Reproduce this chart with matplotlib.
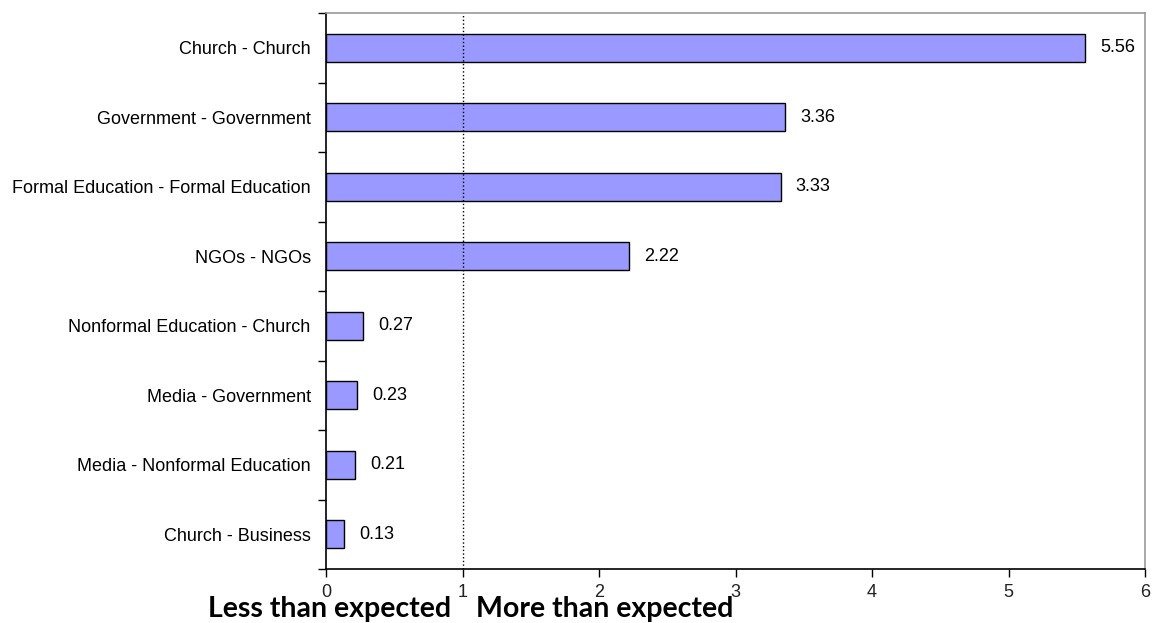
import matplotlib
matplotlib.use("Agg")
import matplotlib.pyplot as plt

categories = [
    "Church - Church",
    "Government - Government",
    "Formal Education - Formal Education",
    "NGOs - NGOs",
    "Nonformal Education - Church",
    "Media - Government",
    "Media - Nonformal Education",
    "Church - Business",
]
values = [5.56, 3.36, 3.33, 2.22, 0.27, 0.23, 0.21, 0.13]
value_labels = ["5.56", "3.36", "3.33", "2.22", "0.27", "0.23", "0.21", "0.13"]
x_ticks = [0, 1, 2, 3, 4, 5, 6]

plt.rcParams["font.family"] = ["Liberation Sans", "DejaVu Sans"]

fig = plt.figure(figsize=(11.56, 6.23), dpi=100)
ax = fig.add_axes([326 / 1156, 1 - 569 / 623, (1145 - 326) / 1156, (569 - 13) / 623])

ypos = list(range(len(categories)))
ax.barh(ypos, values, height=0.4, color="#9999ff", edgecolor="black", linewidth=1)

for y, v, lab in zip(ypos, values, value_labels):
    ax.annotate(lab, (v, y), xytext=(11, 0), textcoords="offset points",
                va="center", ha="left", fontsize=13)

ax.axvline(1, color="black", linestyle=":", linewidth=1)

ax.set_xlim(0, 6)
ax.set_ylim(len(categories) - 0.5, -0.5)
ax.set_xticks(x_ticks)
ax.set_xticklabels([str(t) for t in x_ticks], fontsize=13, color="#222222")

# category labels sit at bar centers, tick marks between categories
ax.set_yticks([y - 0.5 for y in range(len(categories) + 1)])
ax.set_yticklabels([])
ax.set_yticks(ypos, minor=True)
ax.set_yticklabels(categories, minor=True, fontsize=13)
ax.tick_params(axis="y", which="minor", length=0, pad=11)
ax.tick_params(axis="y", which="major", length=6, width=1, direction="out")
ax.tick_params(axis="x", length=6, width=1, direction="out", pad=5)

ax.spines["left"].set_color("black")
ax.spines["bottom"].set_color("black")
ax.spines["top"].set_color("#999999")
ax.spines["right"].set_color("#999999")
for s in ax.spines.values():
    s.set_linewidth(1.2)

fig.text(330 / 1156, 1 - 609 / 623, "Less than expected", ha="center", va="center",
         fontsize=20.5, fontweight="bold", family=["Lato", "DejaVu Sans"])
fig.text(605 / 1156, 1 - 609 / 623, "More than expected", ha="center", va="center",
         fontsize=20.5, fontweight="bold", family=["Lato", "DejaVu Sans"])

fig.savefig("out.png", dpi=100)
